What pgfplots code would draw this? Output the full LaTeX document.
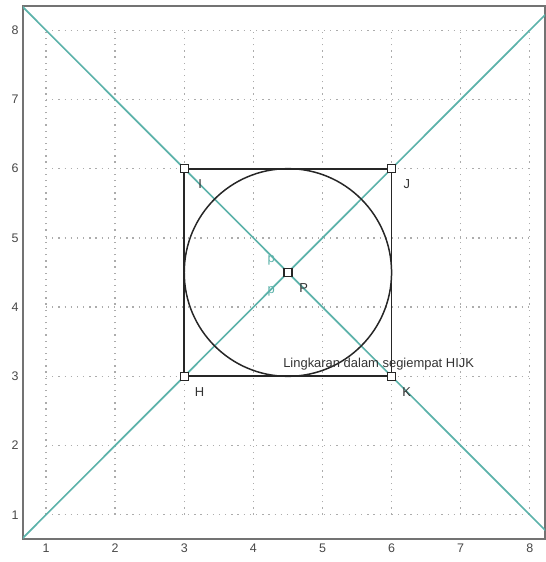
\documentclass[border=0pt]{standalone}
\usepackage{pgfplots}
\pgfplotsset{compat=1.18}
\usepackage{fontspec}
\setmainfont{Liberation Sans}
\definecolor{tealline}{RGB}{92,178,170}
\definecolor{framegray}{RGB}{115,115,115}
\begin{document}
\begin{tikzpicture}[x=1bp,y=1bp]
\begin{axis}[
  scale only axis,
  width=522bp, height=533bp,
  at={(23bp,23bp)}, anchor=south west,
  xmin=0.667, xmax=8.22, ymin=0.65, ymax=8.35,
  xtick={1,...,8}, ytick={1,...,8},
  major tick length=0pt,
  axis line style={framegray, line width=2pt},
  tick label style={font=\fontsize{12.5}{14}\selectfont, text=black!72},
  /pgf/number format/assume math mode=true,
  xticklabel style={yshift=-1bp},
  yticklabel style={xshift=-1bp},
  clip=true,
]
\pgfplotsinvokeforeach{1,...,8}{
  \draw[gray!65, line width=1.3pt, dash pattern=on 1.3pt off 4.9pt] (axis cs:#1,1) -- (axis cs:#1,8);
  \draw[gray!65, line width=1.3pt, dash pattern=on 1.3pt off 4.9pt] (axis cs:1,#1) -- (axis cs:8,#1);
}
\addplot[tealline, line width=1.7pt] coordinates {(0,0) (9,9)};
\addplot[tealline, line width=1.7pt] coordinates {(0,9) (9,0)};
\addplot[black!85, line width=1.7pt] coordinates {(3,3) (3,6) (6,6) (6,3) (3,3)};
\draw[black!85, line width=1.5pt] (axis cs:4.5,4.5) ellipse [x radius=1.5, y radius=1.5];
\addplot[only marks, mark=square*, mark size=4bp, mark options={fill=white, draw=black!85, line width=1.4pt}] coordinates {(3,3) (3,6) (6,6) (6,3) (4.5,4.5)};
\node[font=\fontsize{13}{15}\selectfont, text=black!80] at (axis cs:3.23,5.78) {I};
\node[font=\fontsize{13}{15}\selectfont, text=black!80] at (axis cs:6.22,5.78) {J};
\node[font=\fontsize{13}{15}\selectfont, text=black!80] at (axis cs:3.22,2.78) {H};
\node[font=\fontsize{13}{15}\selectfont, text=black!80] at (axis cs:6.22,2.78) {K};
\node[font=\fontsize{13}{15}\selectfont, text=black!80] at (axis cs:4.73,4.27) {P};
\node[font=\fontsize{13}{15}\selectfont, text=tealline] at (axis cs:4.26,4.68) {p};
\node[font=\fontsize{13}{15}\selectfont, text=tealline] at (axis cs:4.26,4.23) {p};
\node[font=\fontsize{13}{15}\selectfont, text=black!80, anchor=base west, inner sep=0pt] at (axis cs:4.43,3.13) {Lingkaran dalam segiempat HIJK};
\end{axis}
\path (0,0) rectangle (545bp,562bp);
\end{tikzpicture}
\end{document}
